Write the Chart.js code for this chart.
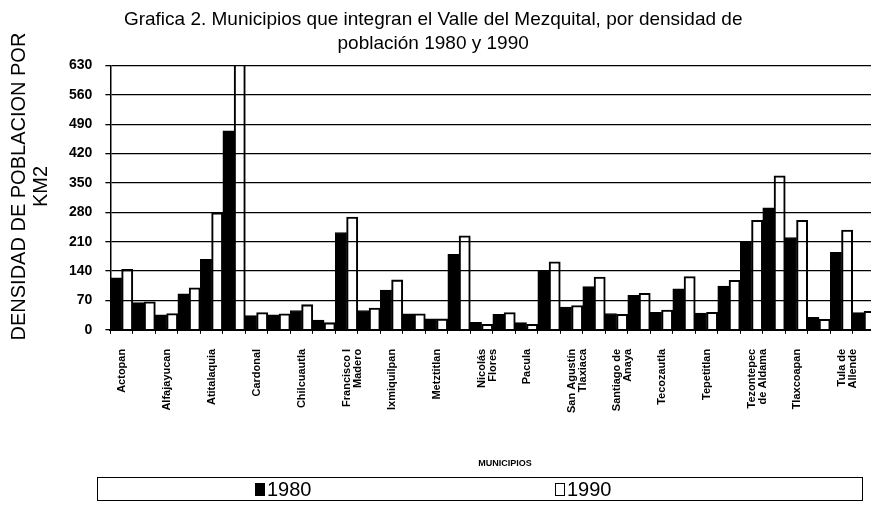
<!DOCTYPE html>
<html>
<head>
<meta charset="utf-8">
<title>Densidad de población 1980 y 1990</title>
<script src="https://cdn.jsdelivr.net/npm/chart.js@4.4.1/dist/chart.umd.min.js"></script>
<style>
	html, body { margin: 0; padding: 0; background: #fff; overflow: hidden; }
	#wrap { width: 890px; height: 508px; }
</style>
</head>
<body>
<div id="wrap"><canvas id="chart" width="890" height="508"></canvas></div>
<script>
// --- data ------------------------------------------------------------------

const municipios = [
	'Actopan', 'Ajacuba', 'Alfajayucan', 'El Arenal', 'Atitalaquia', 'Atotonilco de Tula',
	'Cardonal', 'Chapantongo', 'Chilcuautla', 'Eloxochitlán', ['Francisco I', 'Madero'], 'Huichapan',
	'Ixmiquilpan', 'Jacala', 'Metztitlan', 'Mixquiahuala', ['Nicolás', 'Flores'], 'Nopala',
	'Pacula', 'Progreso', ['San Agustín', 'Tlaxiaca'], 'San Salvador', ['Santiago de', 'Anaya'], 'Tasquillo',
	'Tecozautla', 'Tepeji del Río', 'Tepetitlan', 'Tetepango', ['Tezontepec', 'de Aldama'], 'Tlahuelilpan',
	'Tlaxcoapan', 'Tlahuiltepa', ['Tula de', 'Allende'], 'Zimapán'
];

const dens1980 = [
	124, 65, 36, 86, 168, 474,
	34, 36, 46, 23, 232, 46,
	95, 38, 26, 180, 18, 37,
	17, 142, 54, 103, 39, 82,
	42, 98, 40, 104, 209, 291,
	220, 30, 185, 41
];

const dens1990 = [
	144, 67, 39, 100, 279, 660,
	41, 38, 60, 17, 269, 52,
	119, 38, 26, 224, 13, 41,
	13, 162, 58, 126, 37, 87,
	47, 127, 42, 118, 261, 367,
	261, 25, 238, 44
];

const seriesNames = ['1980', '1990'];
const yTicks = { min: 0, max: 630, step: 70 };

const chartTitle = ['Grafica 2. Municipios que integran el Valle del Mezquital, por densidad de', 'población 1980 y 1990'];
const yTitle = ['DENSIDAD DE POBLACION POR', 'KM2'];
const xTitle = 'MUNICIPIOS';

// --- helpers ---------------------------------------------------------------

const FONT = 'Arial, "Liberation Sans", sans-serif';
const pad = n => '\u00a0'.repeat(n);

// the sheet centres its titles off the canvas middle (plot runs past the crop)
const titleLines  = chartTitle.map(t => t + pad(6));
const yTitleLines = yTitle.map(t => pad(4) + t);

// legend in a long frame plus the axis title above it, as in the original sheet
const frameLegend = {
	id: 'frameLegend',
	afterDraw(chart) {
		const ctx = chart.ctx;
		ctx.save();
		ctx.fillStyle = '#000';
		ctx.textBaseline = 'middle';

		ctx.font = 'bold 9px ' + FONT;
		ctx.textAlign = 'center';
		ctx.fillText(xTitle, 505, 464);

		ctx.lineWidth = 1;
		ctx.strokeStyle = '#000';
		ctx.strokeRect(97.5, 477.5, 765, 23);

		const slots = [255, 555];
		ctx.font = '20px ' + FONT;
		ctx.textAlign = 'left';
		chart.data.datasets.forEach((ds, i) => {
			const x = slots[i];
			ctx.fillStyle = ds.legendFill;
			ctx.fillRect(x, 483, 10, 13);
			ctx.strokeRect(x + 0.5, 483.5, 9, 12);
			ctx.fillStyle = '#000';
			ctx.fillText(ds.label, x + 12, 490);
		});
		ctx.restore();
	}
};

// --- chart -----------------------------------------------------------------

new Chart(document.getElementById('chart').getContext('2d'), {
	type: 'bar',
	data: {
		labels: municipios,
		datasets: [
			{ label: seriesNames[0], data: dens1980, backgroundColor: '#000', borderColor: '#000',
			  borderWidth: 1, legendFill: '#000' },
			{ label: seriesNames[1], data: dens1990, backgroundColor: 'rgba(255,255,255,0)', borderColor: '#000',
			  borderWidth: 1.4, legendFill: '#fff' }
		]
	},
	options: {
		responsive: false,
		animation: false,
		barPercentage: 1,
		categoryPercentage: 1,
		layout: { padding: { left: 8, right: 0, top: 0, bottom: 80 } },
		plugins: {
			legend: { display: false },
			tooltip: { enabled: false },
			title: {
				display: true,
				text: titleLines,
				color: '#000',
				font: { family: FONT, size: 19, weight: 'normal', lineHeight: 1.25 },
				padding: { top: 8, bottom: 10 }
			}
		},
		scales: {
			x: {
				grid: { drawOnChartArea: false, drawTicks: true, tickLength: 4, color: '#000' },
				border: { color: '#000', width: 2 },
				ticks: {
					autoSkip: false, maxRotation: 90, minRotation: 90, padding: 15,
					color: '#000', font: { family: FONT, size: 11, weight: 'bold', lineHeight: 1.0 },
					callback(value, index) { return index % 2 === 0 ? this.getLabelForValue(value) : ''; }
				}
			},
			y: {
				min: yTicks.min, max: yTicks.max,
				grid: { color: '#000', lineWidth: 1.3, tickLength: 5 },
				border: { color: '#000', width: 1.5 },
				ticks: {
					stepSize: yTicks.step, padding: 13, color: '#000',
					font: { family: FONT, size: 14, weight: 'bold' }
				},
				title: {
					display: true, text: yTitleLines, color: '#000',
					font: { family: FONT, size: 20, weight: 'normal', lineHeight: 1.1 },
					padding: { top: 0, bottom: 4 }
				}
			}
		}
	},
	plugins: [frameLegend]
});
</script>
</body>
</html>
